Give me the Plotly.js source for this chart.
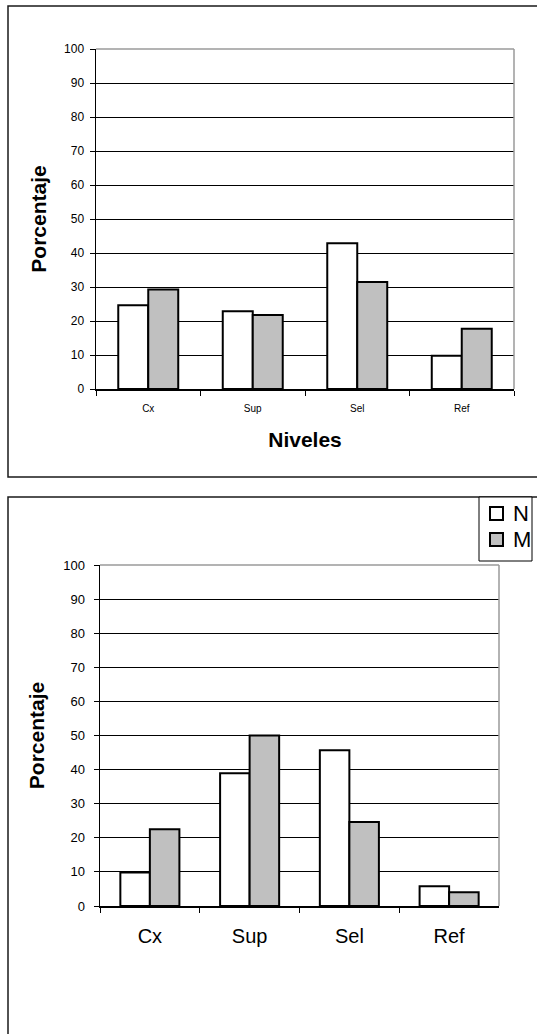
<!DOCTYPE html>
<html>
<head>
<meta charset="utf-8">
<script src="https://cdn.plot.ly/plotly-3.0.1.min.js"></script>
<style>
  html, body { margin: 0; padding: 0; background: #ffffff; }
  #chart { width: 537px; height: 1034px; }
</style>
</head>
<body>
<div id="chart"></div>
<script>
// Categories and series for the two panels
const niveles = ['Cx', 'Sup', 'Sel', 'Ref'];
const serieN = 'N';
const serieM = 'M';

// Upper panel (percentages)
const superiorN = [24.6, 22.9, 42.9, 9.8];
const superiorM = [29.3, 21.8, 31.5, 17.7];

// Lower panel (percentages)
const inferiorN = [9.8, 38.9, 45.7, 5.8];
const inferiorM = [22.5, 50.0, 24.6, 4.0];

const yTickValues = [0, 10, 20, 30, 40, 50, 60, 70, 80, 90, 100];
const yTickText = yTickValues.map(String);

// ---- page geometry helpers (pixel -> paper) ----
const W = 537, H = 1034;
const px = v => v / W;
const py = v => 1 - v / H;

const FONT = 'Liberation Sans, Arial, sans-serif';
const BLANCO = '#ffffff';
const GRIS = '#c0c0c0';

function barras(x, y, name, color, xa, ya, offset, width) {
  return {
    type: 'bar', x: x, y: y, name: name,
    xaxis: xa, yaxis: ya,
    offset: offset, width: width,
    marker: { color: color, line: { color: '#000000', width: 2 } },
    showlegend: false,
    hoverinfo: 'x+y+name'
  };
}

const anchoSup = 0.287, anchoInf = 0.296;

const data = [
  barras(niveles, superiorN, serieN, BLANCO, 'x', 'y', -anchoSup, anchoSup),
  barras(niveles, superiorM, serieM, GRIS, 'x', 'y', 0, anchoSup),
  barras(niveles, inferiorN, serieN, BLANCO, 'x2', 'y2', -anchoInf, anchoInf),
  barras(niveles, inferiorM, serieM, GRIS, 'x2', 'y2', 0, anchoInf)
];

function ejeY(domain, anchor, tickSize, titleSize, standoff, labelStandoff) {
  return {
    domain: domain, anchor: anchor,
    range: [0, 100], autorange: false,
    tickmode: 'array', tickvals: yTickValues, ticktext: yTickText,
    ticks: 'outside', ticklen: 5, tickwidth: 1, tickcolor: '#000000',
    ticklabelstandoff: labelStandoff,
    tickfont: { family: FONT, size: tickSize, color: '#000000' },
    showline: true, linecolor: '#000000', linewidth: 1.5,
    showgrid: true, gridcolor: '#000000', gridwidth: 1,
    zeroline: false, fixedrange: true,
    title: { text: 'Porcentaje', standoff: standoff,
             font: { family: FONT, size: titleSize, color: '#000000', weight: 'bold' } }
  };
}

function ejeX(domain, anchor, tickSize, labelStandoff) {
  return {
    domain: domain, anchor: anchor,
    type: 'category', categoryorder: 'array', categoryarray: niveles,
    range: [-0.5, 3.5], autorange: false,
    ticks: 'outside', tickson: 'boundaries', ticklen: 5, tickwidth: 1, tickcolor: '#000000',
    ticklabelstandoff: labelStandoff,
    tickfont: { family: FONT, size: tickSize, color: '#000000' },
    showline: true, linecolor: '#000000', linewidth: 1.5,
    showgrid: false, zeroline: false, fixedrange: true
  };
}

const xSup = ejeX([px(96), px(514)], 'y', 10, 9);
xSup.title = { text: 'Niveles', standoff: 20,
               font: { family: FONT, size: 21, color: '#000000', weight: 'bold' } };
const ySup = ejeY([py(389), py(49)], 'x', 12, 21, 11, 3);

const xInf = ejeX([px(100), px(499)], 'y2', 20, 11);
const yInf = ejeY([py(906), py(565)], 'x2', 13, 21, 12.5, 6);

// light grey frame on the top and right edges of each plotting area
function marcoGris(xr, yr) {
  const s = { type: 'line', xref: xr, yref: yr, line: { color: '#9a9a9a', width: 1.5 }, layer: 'above' };
  return [
    Object.assign({}, s, { x0: 0, x1: 1, y0: 1, y1: 1 }),
    Object.assign({}, s, { x0: 1, x1: 1, y0: 0, y1: 1 })
  ];
}

const marcoExterior = { type: 'rect', xref: 'paper', yref: 'paper', line: { color: '#1a1a1a', width: 1.5 }, fillcolor: 'rgba(0,0,0,0)' };

// key for the lower panel: framed box with two swatches
const rectPapel = { type: 'rect', xref: 'paper', yref: 'paper', layer: 'above' };
const leyenda = [
  Object.assign({}, rectPapel, { x0: px(479), x1: px(532), y0: py(561), y1: py(497),
    fillcolor: BLANCO, line: { color: '#000000', width: 1 } }),
  Object.assign({}, rectPapel, { x0: px(490), x1: px(503), y0: py(520), y1: py(507),
    fillcolor: BLANCO, line: { color: '#000000', width: 2 } }),
  Object.assign({}, rectPapel, { x0: px(490), x1: px(503), y0: py(546), y1: py(533),
    fillcolor: GRIS, line: { color: '#000000', width: 2 } })
];
const textoLeyenda = [
  { text: serieN, x: px(511), y: py(513), xref: 'paper', yref: 'paper', xanchor: 'left', yanchor: 'middle',
    showarrow: false, font: { family: FONT, size: 22, color: '#000000' } },
  { text: serieM, x: px(511), y: py(539.5), xref: 'paper', yref: 'paper', xanchor: 'left', yanchor: 'middle',
    showarrow: false, font: { family: FONT, size: 22, color: '#000000' } }
];

const layout = {
  width: W, height: H,
  margin: { l: 0, r: 0, t: 0, b: 0, pad: 0 },
  paper_bgcolor: '#ffffff', plot_bgcolor: '#ffffff',
  barmode: 'overlay',
  font: { family: FONT, color: '#000000' },
  xaxis: xSup, yaxis: ySup,
  xaxis2: xInf, yaxis2: yInf,
  showlegend: false,
  annotations: textoLeyenda,
  shapes: [
    Object.assign({}, marcoExterior, { x0: px(8), x1: px(545), y0: py(477), y1: py(6) }),
    Object.assign({}, marcoExterior, { x0: px(8), x1: px(545), y0: py(1045), y1: py(497) }),
    ...marcoGris('x domain', 'y domain'),
    ...marcoGris('x2 domain', 'y2 domain'),
    ...leyenda
  ]
};

Plotly.newPlot('chart', data, layout, { staticPlot: true, displayModeBar: false });
</script>
</body>
</html>
